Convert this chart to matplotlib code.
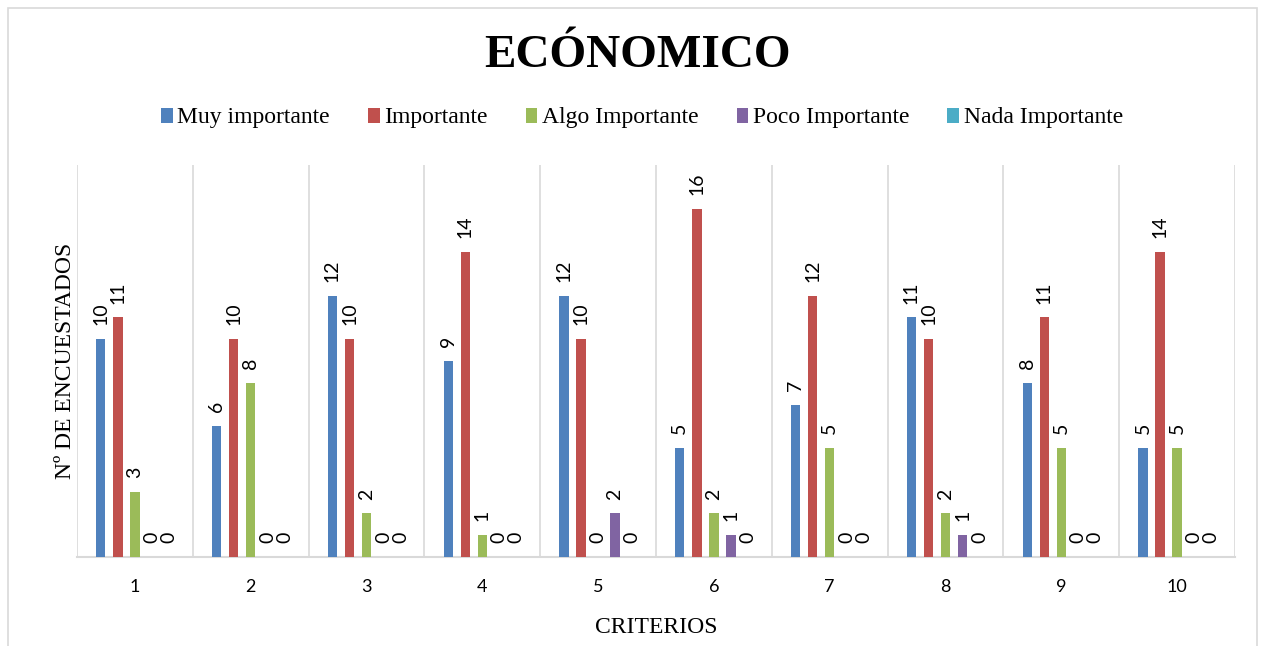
import matplotlib
matplotlib.use("Agg")
import matplotlib.pyplot as plt
from matplotlib.patches import Rectangle
import numpy as np

criterios = ["1", "2", "3", "4", "5", "6", "7", "8", "9", "10"]
series_names = ["Muy importante", "Importante", "Algo Importante",
                "Poco Importante", "Nada Importante"]
muy_importante = [10, 6, 12, 9, 12, 5, 7, 11, 8, 5]
importante = [11, 10, 10, 14, 10, 16, 12, 10, 11, 14]
algo_importante = [3, 8, 2, 1, 0, 2, 5, 2, 5, 5]
poco_importante = [0, 0, 0, 0, 2, 1, 0, 1, 0, 0]
nada_importante = [0, 0, 0, 0, 0, 0, 0, 0, 0, 0]
colors = ["#4F81BD", "#C0504D", "#9BBB59", "#8064A2", "#4BACC6"]

values = [muy_importante, importante, algo_importante, poco_importante, nada_importante]

serif = "Liberation Serif"
sans = "Lato"

fig = plt.figure(figsize=(12.62, 6.46), dpi=100)
fig.patch.set_facecolor("white")
# outer chart border
fig.add_artist(Rectangle((8 / 1262, -0.01), 1249 / 1262, 1 - 8 / 646 + 0.01,
                         transform=fig.transFigure, fill=False,
                         edgecolor="#D9D9D9", linewidth=1.2))

ax = fig.add_axes([77 / 1262, 1 - 557 / 646, (1235 - 77) / 1262, (557 - 165) / 646])
x = np.arange(1, len(criterios) + 1)
step = 0.147
width = 0.08
for i, (vals, name, c) in enumerate(zip(values, series_names, colors)):
    pos = x + (i - 2) * step
    ax.bar(pos, vals, width=width, color=c, label=name, zorder=3)
    for xb, v in zip(pos, vals):
        ax.annotate(str(v), (xb, v), xytext=(0, 10), textcoords="offset points",
                    rotation=90, ha="center", va="bottom", fontsize=14,
                    family=sans, color="black")

ax.set_xlim(0.5, 10.5)
ax.set_ylim(0, 18)
ax.set_yticks([])
ax.set_xticks(x)
ax.set_xticklabels(criterios, family=sans, fontsize=13)
ax.tick_params(axis="x", length=0, pad=16)
for b in np.arange(0.5, 11, 1):
    ax.axvline(b, color="#D9D9D9", linewidth=1.2, zorder=1)
for s in ["top", "right", "left"]:
    ax.spines[s].set_visible(False)
ax.spines["bottom"].set_color("#D9D9D9")
ax.spines["bottom"].set_linewidth(1.5)

ax.set_ylabel("Nº DE ENCUESTADOS", family=serif, fontsize=17, labelpad=1)
ax.set_xlabel("CRITERIOS", family=serif, fontsize=17, labelpad=16)

fig.text(637 / 1262, 1 - 56 / 646, "ECÓNOMICO", family=serif, fontweight="bold",
         fontsize=34, ha="center", va="center")

handles, labels = ax.get_legend_handles_labels()
fig.legend(handles, labels, loc="center", bbox_to_anchor=(642 / 1262, 1 - 118 / 646),
           ncol=5, frameon=False, prop={"family": serif, "size": 17},
           handlelength=0.5, handleheight=0.6, handletextpad=0.2, columnspacing=1.6)

fig.savefig("out.png", dpi=100, facecolor="white")
